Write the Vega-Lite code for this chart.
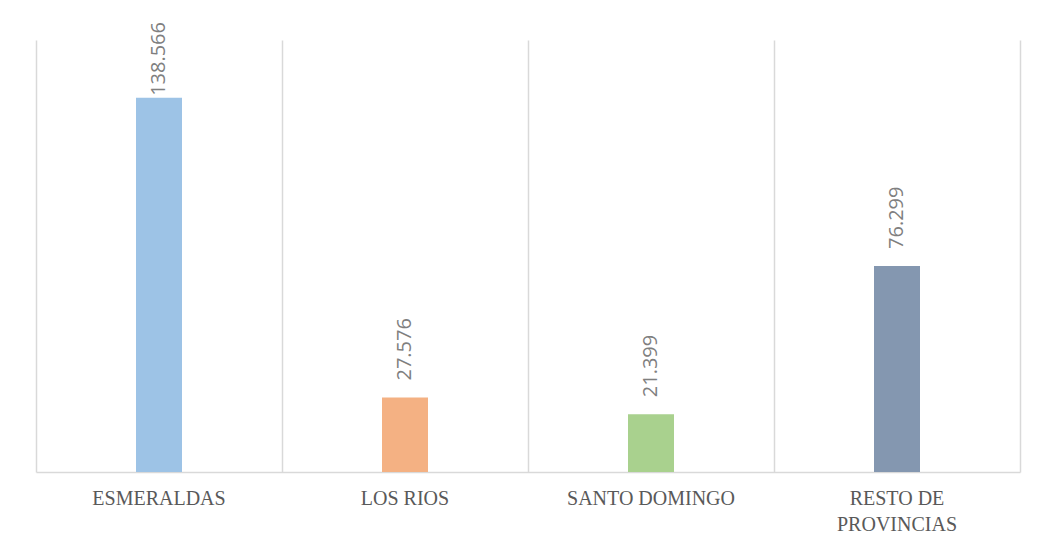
{
  "$schema": "https://vega.github.io/schema/vega-lite/v6.json",
  "width": 984,
  "height": 432,
  "autosize": {"type": "none"},
  "padding": {"left": 36, "top": 40, "right": 17, "bottom": 73},
  "background": "white",
  "config": {
    "view": {"stroke": null},
    "locale": {"number": {"decimal": ",", "thousands": ".", "grouping": [3], "currency": ["$", ""]}}
  },
  "data": {
    "values": [
      {"provincia": "ESMERALDAS", "valor": 138566},
      {"provincia": "LOS RIOS", "valor": 27576},
      {"provincia": "SANTO DOMINGO", "valor": 21399},
      {"provincia": "RESTO DE PROVINCIAS", "valor": 76299}
    ]
  },
  "encoding": {
    "x": {
      "field": "provincia",
      "type": "nominal",
      "sort": null,
      "scale": {"paddingInner": 0, "paddingOuter": 0},
      "axis": {
        "title": null,
        "bandPosition": 0,
        "labelAngle": 0,
        "labelFont": "Liberation Serif",
        "labelFontSize": 20,
        "labelColor": "#595959",
        "labelPadding": 16,
        "labelLineHeight": 26,
        "labelBaseline": "top",
        "labelExpr": "datum.value == 'RESTO DE PROVINCIAS' ? ['RESTO DE', 'PROVINCIAS'] : datum.value",
        "ticks": false,
        "grid": true,
        "gridColor": "#d9d9d9",
        "gridWidth": 1.5,
        "domainColor": "#d9d9d9",
        "domainWidth": 1.5
      }
    }
  },
  "layer": [
    {
      "mark": {"type": "bar", "width": 46},
      "encoding": {
        "y": {"field": "valor", "type": "quantitative", "scale": {"domain": [0, 160000]}, "axis": null},
        "color": {
          "field": "provincia",
          "type": "nominal",
          "sort": null,
          "scale": {
            "domain": ["ESMERALDAS", "LOS RIOS", "SANTO DOMINGO", "RESTO DE PROVINCIAS"],
            "range": ["#9DC3E6", "#F4B183", "#A9D18E", "#8497B0"]
          },
          "legend": null
        }
      }
    },
    {
      "transform": [{"filter": "datum.valor > 100000"}],
      "mark": {"type": "text", "angle": 270, "align": "left", "baseline": "middle", "dx": 2, "font": "Open Sans", "fontSize": 20, "color": "#7f7f7f"},
      "encoding": {
        "y": {
          "field": "valor",
          "type": "quantitative",
          "axis": {"orient": "right", "labels": false, "ticks": false, "grid": false, "title": null, "domainColor": "#d9d9d9", "domainWidth": 1.5}
        },
        "text": {"field": "valor", "type": "quantitative", "format": ",d"}
      }
    },
    {
      "transform": [{"filter": "datum.valor <= 100000"}],
      "mark": {"type": "text", "angle": 270, "align": "left", "baseline": "middle", "dx": 17, "font": "Open Sans", "fontSize": 20, "color": "#7f7f7f"},
      "encoding": {
        "y": {"field": "valor", "type": "quantitative", "axis": null},
        "text": {"field": "valor", "type": "quantitative", "format": ",d"}
      }
    }
  ],
  "resolve": {"axis": {"y": "independent"}}
}
